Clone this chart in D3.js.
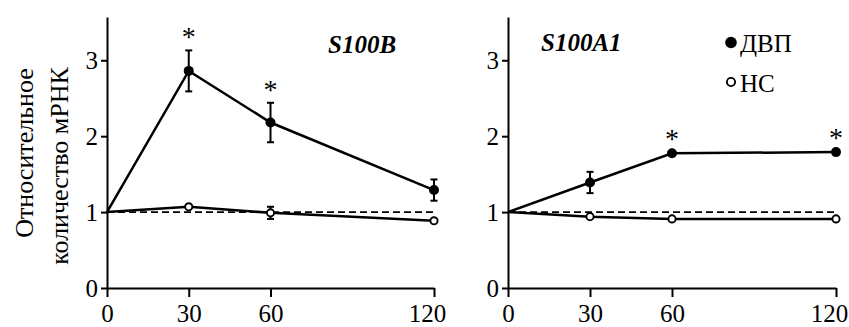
<!DOCTYPE html>
<html>
<head>
<meta charset="utf-8">
<script src="https://cdn.jsdelivr.net/npm/d3@7"></script>
<style>
  html, body { margin: 0; padding: 0; background: #fff; }
</style>
</head>
<body>
<svg id="chart" width="849" height="327"></svg>
<script>
// Time points (min)
const times = [0, 30, 60, 120];
const xTicks = [0, 30, 60, 120];
const yTicks = [0, 1, 2, 3];

// S100B: relative mRNA level
const s100bDVP = [1, 2.86, 2.18, 1.29];
const s100bDVPErr = [0, 0.27, 0.26, 0.14];
const s100bNS = [1, 1.07, 0.99, 0.885];
const s100bNSErr = [0, 0.02, 0.08, 0.02];
const s100bStars = [false, true, true, false];

// S100A1: relative mRNA level
const s100a1DVP = [1, 1.39, 1.775, 1.79];
const s100a1DVPErr = [0, 0.14, 0.02, 0.02];
const s100a1NS = [1, 0.94, 0.91, 0.91];
const s100a1NSErr = [0, 0.02, 0.03, 0.02];
const s100a1Stars = [false, false, true, true];

const seriesNames = ["ДВП", "НС"];
const yLabelLines = ["Относительное", "количество мРНК"];

const FONT = "Liberation Serif";
const svg = d3.select("#chart").attr("font-family", FONT);

const yScale = d3.scaleLinear().domain([0, 3.57]).range([288, 17]);

function drawPanel(x0, x1, title, titleX, titleY, dvp, dvpErr, ns, nsErr, stars) {
  const x = d3.scaleLinear().domain([0, 120]).range([x0, x1]);
  const g = svg.append("g");

  // axes
  const yAxis = g.append("g")
    .attr("transform", `translate(${x0},0)`)
    .call(d3.axisLeft(yScale).tickValues(yTicks).tickFormat(d3.format("d"))
      .tickSizeInner(6).tickSizeOuter(0).tickPadding(3));
  const xAxis = g.append("g")
    .attr("transform", `translate(0,${yScale(0)})`)
    .call(d3.axisBottom(x).tickValues(xTicks).tickFormat(d3.format("d"))
      .tickSizeInner(9).tickSizeOuter(0).tickPadding(7));
  [yAxis, xAxis].forEach(a => {
    a.attr("font-family", FONT).attr("font-size", 25);
    a.selectAll("path, line").attr("stroke", "#000").attr("stroke-width", 2);
    a.selectAll("text").attr("fill", "#000").attr("font-family", FONT);
  });
  // the last time label sits a little left of its tick
  xAxis.selectAll(".tick text").filter(d => d === 120).attr("dx", -7);

  // reference level
  g.append("line")
    .attr("x1", x(0)).attr("x2", x(120))
    .attr("y1", yScale(1)).attr("y2", yScale(1))
    .attr("stroke", "#000").attr("stroke-width", 1.7)
    .attr("stroke-dasharray", "7,4");

  const line = d3.line().x(d => x(d[0])).y(d => yScale(d[1]));

  function series(vals, errs, filled) {
    const pts = times.map((t, i) => [t, vals[i], errs[i]]);
    g.append("path").datum(pts).attr("d", line)
      .attr("fill", "none").attr("stroke", "#000").attr("stroke-width", 2.5);
    // error bars
    pts.filter(p => p[2] > 0.03).forEach(p => {
      const cx = x(p[0]);
      g.append("line").attr("x1", cx).attr("x2", cx)
        .attr("y1", yScale(p[1] - p[2])).attr("y2", yScale(p[1] + p[2]))
        .attr("stroke", "#000").attr("stroke-width", 2);
      [p[1] - p[2], p[1] + p[2]].forEach(v => {
        g.append("line").attr("x1", cx - 3.5).attr("x2", cx + 3.5)
          .attr("y1", yScale(v)).attr("y2", yScale(v))
          .attr("stroke", "#000").attr("stroke-width", 2);
      });
    });
    g.selectAll(null).data(pts.slice(1)).enter().append("circle")
      .attr("cx", d => x(d[0])).attr("cy", d => yScale(d[1]))
      .attr("r", filled ? 5 : 3.6)
      .attr("fill", filled ? "#000" : "#fff")
      .attr("stroke", "#000").attr("stroke-width", filled ? 0 : 1.9);
  }
  series(ns, nsErr, false);
  series(dvp, dvpErr, true);

  // significance marks
  times.forEach((t, i) => {
    if (!stars[i]) return;
    g.append("text")
      .attr("x", x(t)).attr("y", yScale(dvp[i] + dvpErr[i]) - 4)
      .attr("text-anchor", "middle")
      .attr("font-size", 28).text("*");
  });

  g.append("text").attr("x", titleX).attr("y", titleY)
    .attr("font-size", 25).attr("font-weight", "bold").attr("font-style", "italic")
    .text(title);
}

drawPanel(107, 434, "S100B", 328, 53, s100bDVP, s100bDVPErr, s100bNS, s100bNSErr, s100bStars);
drawPanel(508, 836, "S100A1", 541, 51, s100a1DVP, s100a1DVPErr, s100a1NS, s100a1NSErr, s100a1Stars);

// y axis title (two lines, rotated)
svg.append("text")
  .attr("transform", "translate(33,153) rotate(-90)")
  .attr("text-anchor", "middle").attr("font-size", 26)
  .text(yLabelLines[0]);
svg.append("text")
  .attr("transform", "translate(68,166) rotate(-90)")
  .attr("text-anchor", "middle").attr("font-size", 26)
  .text(yLabelLines[1]);

// legend
const legend = svg.append("g");
[[42.5, true], [82, false]].forEach((row, i) => {
  legend.append("circle").attr("cx", 731).attr("cy", row[0])
    .attr("r", row[1] ? 5.8 : 4.1)
    .attr("fill", row[1] ? "#000" : "#fff")
    .attr("stroke", "#000").attr("stroke-width", row[1] ? 0 : 1.9);
  legend.append("text").attr("x", 740).attr("y", row[0] + 9.5)
    .attr("font-size", 25).text(seriesNames[i]);
});
</script>
</body>
</html>
